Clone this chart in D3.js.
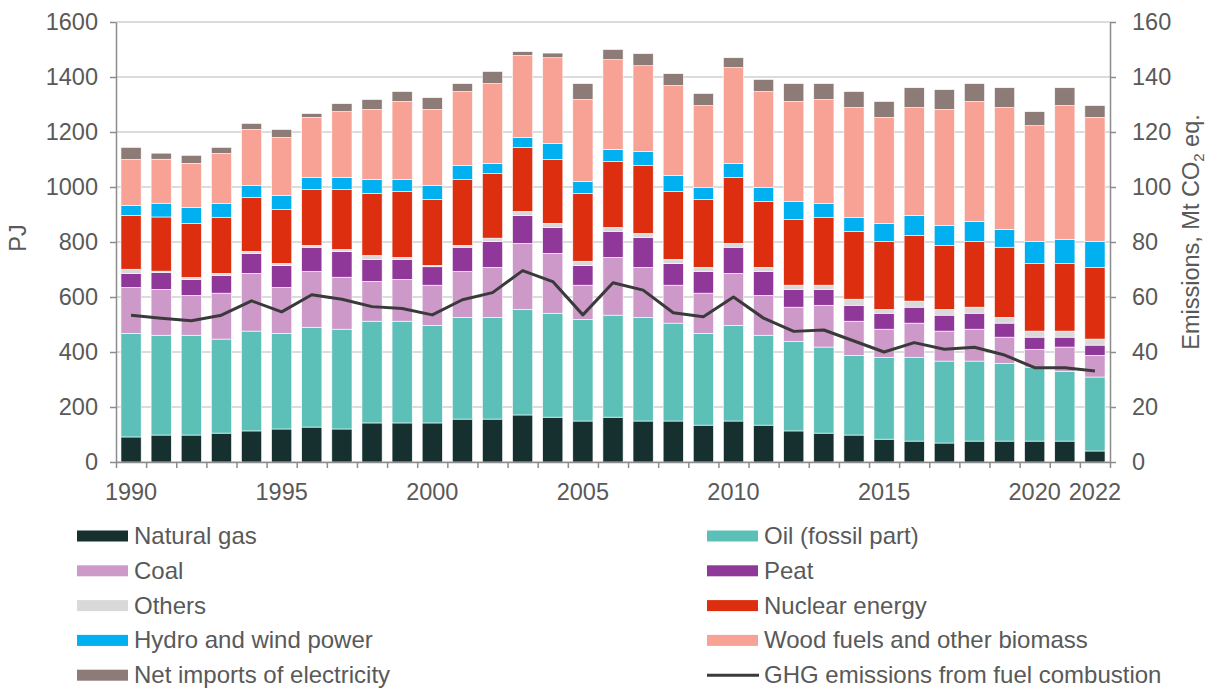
<!DOCTYPE html>
<html>
<head>
<meta charset="utf-8">
<script src="https://cdn.jsdelivr.net/npm/d3@7"></script>
<style>
  body { margin: 0; background: #fff; }
  text { font-family: "Liberation Sans", Arial, sans-serif; fill: #595959; }
</style>
</head>
<body>
<div id="chart"></div>
<script>

let width = 1208;
let height = 691;

const years = d3.range(1990, 2023);
const yearLabels = [1990, 1995, 2000, 2005, 2010, 2015, 2020, 2022];

const naturalGas = [91, 98, 98, 105, 113, 120, 127, 120, 142, 142, 142, 156, 156, 171, 163, 149, 163, 149, 149, 134, 149, 134, 113, 105, 98, 83, 76, 69, 76, 76, 76, 76, 40];
const oil = [377, 363, 363, 342, 363, 348, 363, 363, 370, 370, 355, 370, 370, 384, 378, 370, 371, 377, 356, 334, 348, 327, 326, 313, 290, 298, 305, 298, 291, 283, 269, 254, 269];
const coal = [167, 167, 145, 167, 210, 167, 203, 189, 145, 152, 146, 167, 182, 240, 218, 124, 210, 182, 138, 146, 189, 145, 124, 152, 124, 102, 124, 109, 116, 95, 65, 88, 79];
const peat = [51, 61, 58, 65, 73, 80, 88, 94, 80, 73, 67, 88, 94, 102, 94, 72, 95, 109, 79, 79, 95, 87, 65, 58, 58, 58, 58, 58, 58, 51, 44, 36, 37];
const others = [15, 5, 7, 7, 7, 7, 7, 7, 14, 7, 5, 7, 12, 14, 15, 15, 14, 14, 15, 15, 14, 15, 15, 15, 22, 14, 22, 21, 22, 21, 22, 22, 22];
const nuclear = [196, 197, 197, 204, 196, 197, 203, 218, 226, 240, 240, 239, 235, 233, 232, 247, 240, 247, 247, 247, 240, 240, 239, 247, 247, 247, 239, 233, 239, 255, 246, 246, 261];
const hydroWind = [36, 50, 58, 50, 44, 50, 44, 44, 50, 43, 51, 51, 37, 36, 58, 43, 43, 51, 58, 43, 51, 50, 66, 50, 50, 66, 73, 72, 73, 65, 80, 88, 94];
const woodFuels = [167, 160, 160, 182, 203, 211, 218, 239, 255, 284, 276, 269, 290, 298, 312, 298, 327, 312, 327, 298, 348, 349, 363, 378, 400, 385, 392, 422, 436, 443, 421, 486, 451];
const netImports = [44, 22, 29, 22, 22, 29, 14, 29, 36, 36, 43, 29, 44, 14, 17, 58, 37, 44, 43, 44, 36, 44, 65, 58, 58, 58, 72, 72, 65, 72, 51, 65, 43];
const ghgEmissions = [53.4, 52.3, 51.4, 53.4, 58.6, 54.6, 60.8, 59.2, 56.5, 55.8, 53.5, 59, 61.6, 69.6, 65.6, 53.5, 65.2, 62.5, 54.3, 52.8, 60, 52.3, 47.5, 48, 44, 40, 43.4, 41, 41.7, 38.9, 34.3, 34.3, 33.1];

const seriesNames = ["Natural gas", "Oil (fossil part)", "Coal", "Peat", "Others", "Nuclear energy",
    "Hydro and wind power", "Wood fuels and other biomass", "Net imports of electricity"];
const seriesValues = [naturalGas, oil, coal, peat, others, nuclear, hydroWind, woodFuels, netImports];
const seriesColors = ["#15302e", "#5cc0b8", "#cc99c8", "#90379a", "#d9d9d9", "#dd2e10", "#00b0f0", "#f8a296", "#8c7b76"];
const lineName = "GHG emissions from fuel combustion";

const yTicks = d3.range(0, 1601, 200);
const y2Ticks = d3.range(0, 161, 20);

let svg = d3.select("#chart")
    .append("svg")
    .attr("width", width)
    .attr("height", height);

let plotLeft = 116, plotRight = 1110, plotTop = 22, plotBottom = 462;

let scaleX = d3.scaleBand()
    .domain(years)
    .range([plotLeft, plotRight])
    .paddingInner(0.33)
    .paddingOuter(0.165);

let scaleY = d3.scaleLinear().domain([0, 1600]).range([plotBottom, plotTop]);
let scaleY2 = d3.scaleLinear().domain([0, 160]).range([plotBottom, plotTop]);

let color = d3.scaleOrdinal().domain(seriesNames).range(seriesColors);

// table for the stack
let table = years.map((year, i) => {
    let row = { year: year };
    seriesNames.forEach((name, j) => row[name] = seriesValues[j][i]);
    return row;
});

let stackedData = d3.stack().keys(seriesNames)(table);

// grid
svg.append("g")
    .selectAll("line.grid")
    .data(yTicks)
    .join("line")
    .attr("class", "grid")
    .attr("x1", plotLeft)
    .attr("x2", plotRight)
    .attr("y1", d => scaleY(d))
    .attr("y2", d => scaleY(d))
    .attr("stroke", "#d0d0d0")
    .attr("stroke-width", 1.5);

// bars
svg.append("g")
    .selectAll("g.series")
    .data(stackedData)
    .join("g")
    .attr("class", "series")
    .attr("fill", d => color(d.key))
    .selectAll("rect")
    .data(d => d)
    .join("rect")
    .attr("x", d => scaleX(d.data.year))
    .attr("width", scaleX.bandwidth())
    .attr("y", d => scaleY(d[1]))
    .attr("height", d => scaleY(d[0]) - scaleY(d[1]))
    .attr("stroke", "#ffffff")
    .attr("stroke-width", 0.6);

// emissions line
svg.append("path")
    .datum(ghgEmissions)
    .attr("fill", "none")
    .attr("stroke", "#3a3a3a")
    .attr("stroke-width", 3)
    .attr("stroke-linejoin", "round")
    .attr("d", d3.line()
        .x((d, i) => scaleX(years[i]) + scaleX.bandwidth() / 2)
        .y(d => scaleY2(d)));

// axes
let leftAxis = svg.append("g")
    .attr("transform", "translate(" + plotLeft + ",0)")
    .call(d3.axisLeft(scaleY).tickValues(yTicks).tickFormat(d3.format("d"))
        .tickSize(6).tickPadding(12).tickSizeOuter(0));

let rightAxis = svg.append("g")
    .attr("transform", "translate(" + plotRight + ",0)")
    .call(d3.axisRight(scaleY2).tickValues(y2Ticks).tickFormat(d3.format("d"))
        .tickSize(6).tickPadding(16).tickSizeOuter(0));

let xAxis = d3.axisBottom(d3.scaleLinear().domain([0, years.length]).range([plotLeft, plotRight]))
    .tickValues(d3.range(0, years.length + 1))
    .tickSize(6)
    .tickSizeOuter(0)
    .tickFormat("");

let bottomAxis = svg.append("g")
    .attr("transform", "translate(0," + plotBottom + ")")
    .call(xAxis);

[leftAxis, rightAxis, bottomAxis].forEach(a => {
    a.selectAll("path, line").attr("stroke", "#8c8c8c").attr("stroke-width", 1.5);
    a.selectAll("text").attr("font-size", 23.5).attr("fill", "#595959")
        .style("font-family", "'Liberation Sans', Arial, sans-serif");
});

svg.append("g")
    .selectAll("text.year")
    .data(yearLabels)
    .join("text")
    .attr("class", "year")
    .attr("x", d => scaleX(d) + scaleX.bandwidth() / 2)
    .attr("y", 500)
    .attr("text-anchor", "middle")
    .attr("font-size", 23.5)
    .text(d => d);

// axis titles
svg.append("text")
    .attr("transform", "translate(26,238) rotate(-90)")
    .attr("text-anchor", "middle")
    .attr("font-size", 23.5)
    .text("PJ");

let title2 = svg.append("text")
    .attr("transform", "translate(1199,232) rotate(-90)")
    .attr("text-anchor", "middle")
    .attr("font-size", 23.5);
title2.append("tspan").text("Emissions, Mt CO");
title2.append("tspan").attr("font-size", 15).attr("dy", 5).text("2");
title2.append("tspan").attr("dy", -5).text(" eq.");

// legend
let legendItems = seriesNames.map((name, i) => ({ name: name, color: seriesColors[i], type: "rect" }));
legendItems.push({ name: lineName, color: "#3a3a3a", type: "line" });

let legend = svg.append("g")
    .selectAll("g.legend")
    .data(legendItems)
    .join("g")
    .attr("class", "legend")
    .attr("transform", (d, i) => "translate(" + (i % 2 === 0 ? 77 : 707) + "," + (536 + Math.floor(i / 2) * 34.8) + ")");

legend.filter(d => d.type === "rect")
    .append("rect")
    .attr("x", 0)
    .attr("y", -5.5)
    .attr("width", 51)
    .attr("height", 11)
    .attr("fill", d => d.color);

legend.filter(d => d.type === "line")
    .append("line")
    .attr("x1", 0)
    .attr("x2", 52)
    .attr("stroke", d => d.color)
    .attr("stroke-width", 3);

legend.append("text")
    .attr("x", 57)
    .attr("y", 8)
    .attr("font-size", 24)
    .text(d => d.name);

</script>
</body>
</html>
